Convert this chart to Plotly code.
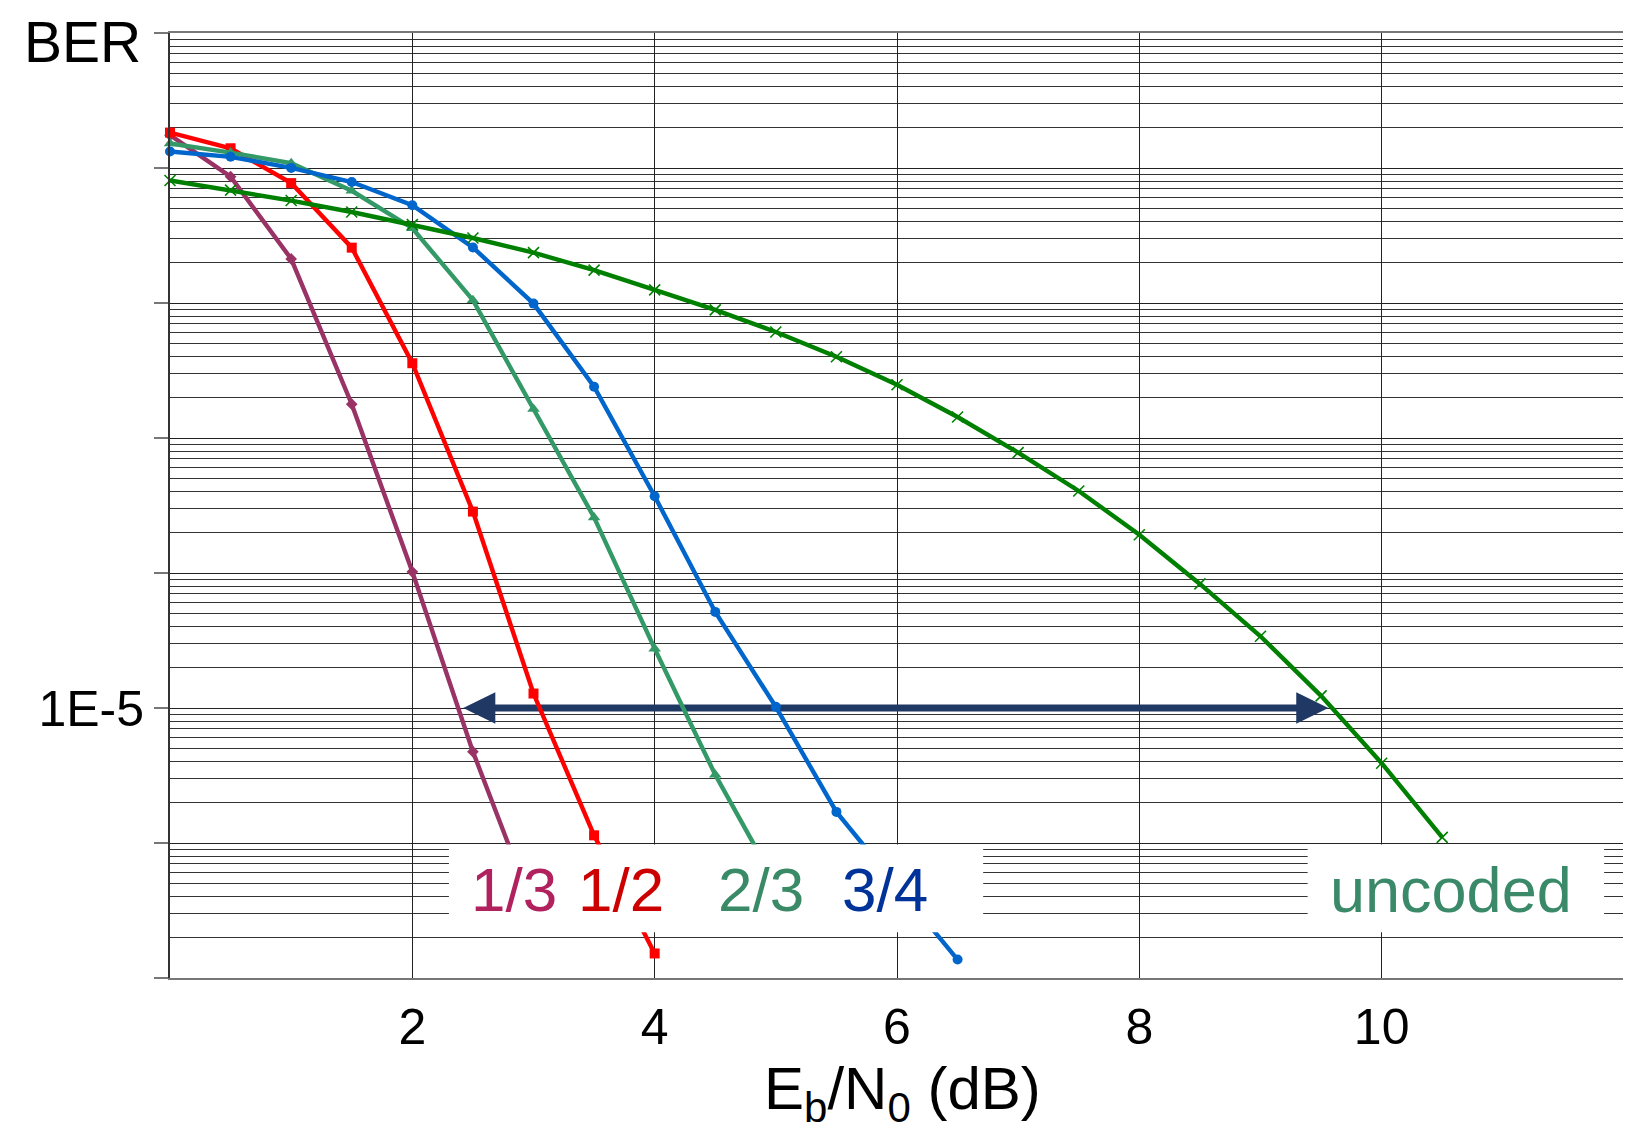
import plotly.graph_objects as go

# ---------------- data ----------------
x_13 = [0, 0.5, 1, 1.5, 2, 2.5, 3]
ber_13 = [0.175, 0.0863, 0.0212, 1.78e-3, 1.02e-4, 4.75e-6, 3.2e-7]

x_12 = [0, 0.5, 1, 1.5, 2, 2.5, 3, 3.5, 4]
ber_12 = [0.183, 0.140, 0.0773, 0.0257, 3.58e-3, 2.85e-4, 1.28e-5, 1.14e-6, 1.52e-7]

x_23 = [0, 0.5, 1, 1.5, 2, 2.5, 3, 3.5, 4, 4.5, 5]
ber_23 = [0.152, 0.130, 0.1086, 0.0678, 0.0358, 0.0105, 1.64e-3, 2.58e-4, 2.75e-5, 3.2e-6, 5.0e-7]

x_34 = [0, 0.5, 1, 1.5, 2, 2.5, 3, 3.5, 4, 4.5, 5, 5.5, 6, 6.5]
ber_34 = [0.1325, 0.121, 0.1002, 0.0787, 0.0530, 0.0258, 9.9e-3, 2.4e-3, 3.7e-4,
          5.15e-5, 1.02e-5, 1.7e-6, 4.8e-7, 1.37e-7]

x_unc = [0, 0.5, 1, 1.5, 2, 2.5, 3, 3.5, 4, 4.5, 5, 5.5, 6, 6.5, 7, 7.5, 8, 8.5, 9, 9.5, 10, 10.5]
ber_unc = [0.0808, 0.0685, 0.0574, 0.0472, 0.0381, 0.0303, 0.0236, 0.0175, 0.0125, 0.0089,
           0.0061, 0.0040, 0.00248, 0.00143, 7.8e-4, 4.05e-4, 1.92e-4, 8.3e-5, 3.4e-5,
           1.23e-5, 3.9e-6, 1.1e-6]

x_ticks = [2, 4, 6, 8, 10]
y_major = [1e0, 1e-1, 1e-2, 1e-3, 1e-4, 1e-5, 1e-6, 1e-7]
y_major_text = ["", "", "", "", "", "1E-5", "", ""]

labels = ["1/3", "1/2", "2/3", "3/4", "uncoded"]

# arrow (annotation) at BER = 1E-5
arrow_y = 1e-5
arrow_x_left = 2.42
arrow_x_right = 9.56

# ---------------- styles ----------------
FONT = "Liberation Sans, Arial, sans-serif"
line_colors = ["#993366", "#ff0000", "#339966", "#0066cc", "#008000"]
label_colors = ["#b0215e", "#cc0000", "#3a8a68", "#003399", "#3a8a6a"]
symbols = ["diamond", "square", "triangle-up", "circle", "x-thin"]
msizes = [9, 10, 11, 10, 11]
label_x = [2.84, 3.72, 4.88, 5.90, 10.57]
label_sizes = [62, 62, 62, 62, 63]
label_logy = -6.345
boxes = [(2.302, 6.711), (9.389, 11.836)]
LOG_MIN, LOG_MAX = -7, 0
box_logy = (-6.661, -6.012)
head_len = 0.265      # dB
head_half = 0.116     # decades
arrow_color = "#1f3864"

fig = go.Figure()

# arrow drawn first so the curves lie on top of it
fig.add_trace(go.Scatter(
    x=[arrow_x_left + head_len * 0.8, arrow_x_right - head_len * 0.8],
    y=[arrow_y, arrow_y], mode="lines",
    line=dict(color=arrow_color, width=7), hoverinfo="skip", showlegend=False))
for tip, sgn in [(arrow_x_left, 1), (arrow_x_right, -1)]:
    fig.add_trace(go.Scatter(
        x=[tip, tip + sgn * head_len, tip + sgn * head_len, tip],
        y=[arrow_y, arrow_y * 10 ** head_half, arrow_y * 10 ** (-head_half), arrow_y],
        mode="lines", fill="toself", fillcolor=arrow_color,
        line=dict(color=arrow_color, width=0), hoverinfo="skip", showlegend=False))

series = [(x_13, ber_13), (x_12, ber_12), (x_23, ber_23), (x_34, ber_34), (x_unc, ber_unc)]
for i, (xs, ys) in enumerate(series):
    marker = dict(symbol=symbols[i], size=msizes[i], color=line_colors[i])
    if symbols[i] == "x-thin":
        marker["line"] = dict(color=line_colors[i], width=1.6)
    fig.add_trace(go.Scatter(
        x=xs, y=ys, mode="lines+markers", name=labels[i],
        line=dict(color=line_colors[i], width=4.4),
        marker=marker, cliponaxis=False, showlegend=False))

# white label boxes (paper y, converted from log position)
py0 = (box_logy[0] - LOG_MIN) / (LOG_MAX - LOG_MIN)
py1 = (box_logy[1] - LOG_MIN) / (LOG_MAX - LOG_MIN)
for (bx0, bx1) in boxes:
    fig.add_shape(type="rect", xref="x", yref="paper", x0=bx0, x1=bx1,
                  y0=py0, y1=py1,
                  fillcolor="white", line=dict(width=0), layer="above")

for i, lab in enumerate(labels):
    fig.add_annotation(x=label_x[i], y=label_logy, xref="x", yref="y", text=lab,
                       showarrow=False, xanchor="center", yanchor="middle",
                       font=dict(family=FONT, size=label_sizes[i], color=label_colors[i]))

# BER title top-left
fig.add_annotation(x=-0.1015, y=1.0262, xref="paper", yref="paper", text="BER",
                   showarrow=False, xanchor="left", yanchor="top",
                   font=dict(family=FONT, size=57, color="black"))
# x-axis title
fig.add_annotation(x=0.5036, y=-0.122, xref="paper", yref="paper",
                   text="E<sub>b</sub>/N<sub>0</sub> (dB)",
                   showarrow=False, xanchor="center", yanchor="middle",
                   font=dict(family=FONT, size=60, color="black"))

minor_vals = [m * 10.0 ** e for e in range(-7, 0) for m in range(2, 10)]

fig.update_layout(
    width=1623, height=1123, autosize=False,
    margin=dict(l=162, r=5, t=25, b=153),
    paper_bgcolor="white", plot_bgcolor="white",
    showlegend=False,
    xaxis=dict(range=[0, 12], tickmode="array", tickvals=x_ticks,
               ticktext=[str(v) for v in x_ticks],
               showgrid=True, gridcolor="#222222", gridwidth=1,
               zeroline=False, ticks="", ticklabelstandoff=4,
               tickfont=dict(family=FONT, size=50, color="black"),
               showline=True, linecolor="#777777", linewidth=2, mirror=True),
    yaxis=dict(type="log", range=[LOG_MIN, LOG_MAX], tickmode="array", tickvals=y_major,
               ticktext=y_major_text, showgrid=True, gridcolor="#222222", gridwidth=1,
               ticks="outside", ticklen=14, tickwidth=2, tickcolor="#777777",
               tickfont=dict(family=FONT, size=50, color="black"),
               minor=dict(tickmode="array", tickvals=minor_vals, showgrid=True,
                          gridcolor="#333333", gridwidth=1, ticks=""),
               zeroline=False,
               showline=True, linecolor="#333333", linewidth=2, mirror=True),
)

fig.write_html("out.html")
